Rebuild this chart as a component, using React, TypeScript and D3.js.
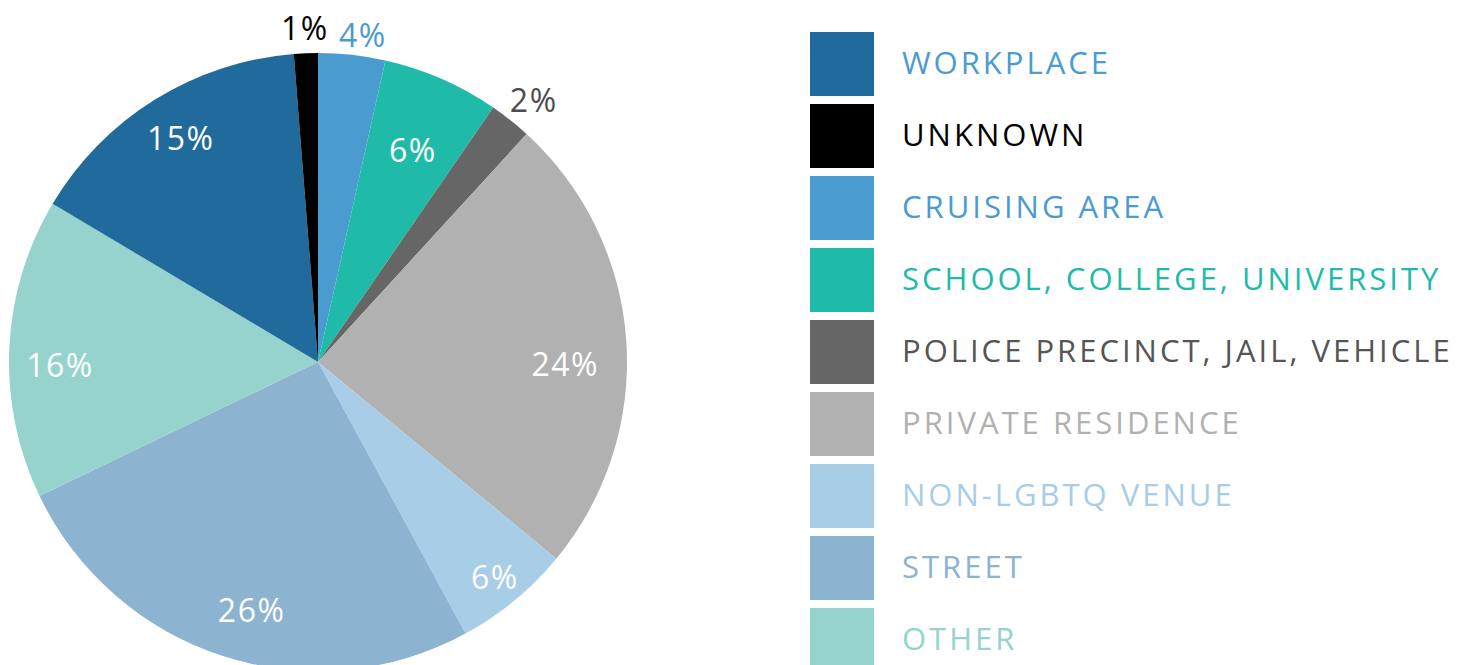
import React from "react";
import * as d3 from "d3";

const categories = [
  "WORKPLACE",
  "UNKNOWN",
  "CRUISING AREA",
  "SCHOOL, COLLEGE, UNIVERSITY",
  "POLICE PRECINCT, JAIL, VEHICLE",
  "PRIVATE RESIDENCE",
  "NON-LGBTQ VENUE",
  "STREET",
  "OTHER",
];
const values = [15.2, 1.25, 3.5, 6.1, 2.2, 24.2, 6.1, 25.8, 15.7];
const valueLabels = ["15%", "1%", "4%", "6%", "2%", "24%", "6%", "26%", "16%"];
// pie starts at 12 o'clock with "CRUISING AREA"
const pieOrder = [2, 3, 4, 5, 6, 7, 8, 0, 1];

const sliceColors = [
  "#206b9c",
  "#000000",
  "#4a9bd0",
  "#20bba8",
  "#666666",
  "#b0b1b0",
  "#a7cde7",
  "#8cb3cf",
  "#95d3cc",
];
const legendTextColors = [
  "#4a9bd0",
  "#000000",
  "#4a9bd0",
  "#20bba8",
  "#555555",
  "#b0b1b0",
  "#a7cde7",
  "#8cb3cf",
  "#95d3cc",
];
const labelColors = ["#fff", "#000", "#4a9bd0", "#fff", "#4d4d4d", "#fff", "#fff", "#fff", "#fff"];
const labelRadiusFactor = [0.852, 1.085, 1.071, 0.752, 1.1, 0.8, 0.9, 0.83, 0.835];
const labelAngleShiftDeg = [0.4, 0, 1.5, 0.5, 0.9, 4.4, 0, -2.9, -3.1];

const W = 1468;
const H = 665;
const cx = 318;
const cy = 362;
const R = 309;
const FONT = "'Open Sans', sans-serif";

export default function App() {
  const ordered = pieOrder.map((i) => ({ i, v: values[i] }));
  const pie = d3
    .pie<{ i: number; v: number }>()
    .sort(null)
    .value((d) => d.v);
  const arcs = pie(ordered);
  const arc = d3.arc<d3.PieArcDatum<{ i: number; v: number }>>().innerRadius(0).outerRadius(R);

  const legendY = d3
    .scaleBand<number>()
    .domain(d3.range(categories.length))
    .range([32, 32 + 72 * 9 - 8])
    .paddingInner(8 / 72);

  return (
    <svg width={W} height={H} style={{ position: "absolute", left: 0, top: 0, background: "#fff" }} fontFamily={FONT}>
      <g transform={`translate(${cx},${cy})`}>
        {arcs.map((a) => (
          <path key={a.data.i} d={arc(a) || ""} fill={sliceColors[a.data.i]} />
        ))}
        {arcs.map((a) => {
          const mid = (a.startAngle + a.endAngle) / 2 + (labelAngleShiftDeg[a.data.i] * Math.PI) / 180;
          const r = R * labelRadiusFactor[a.data.i];
          const x = Math.sin(mid) * r;
          const y = -Math.cos(mid) * r;
          return (
            <text
              key={"l" + a.data.i}
              x={x}
              y={y}
              textAnchor="middle"
              dominantBaseline="central"
              fontSize={32}
              letterSpacing={1.5}
              fill={labelColors[a.data.i]}
            >
              {valueLabels[a.data.i]}
            </text>
          );
        })}
      </g>
      <g>
        {categories.map((c, i) => {
          const y = legendY(i) as number;
          return (
            <g key={c}>
              <rect x={810} y={y} width={64} height={legendY.bandwidth()} fill={sliceColors[i]} />
              <text x={902} y={y + 42} fontSize={31} fill={legendTextColors[i]} letterSpacing={3}>
                {c}
              </text>
            </g>
          );
        })}
      </g>
    </svg>
  );
}
